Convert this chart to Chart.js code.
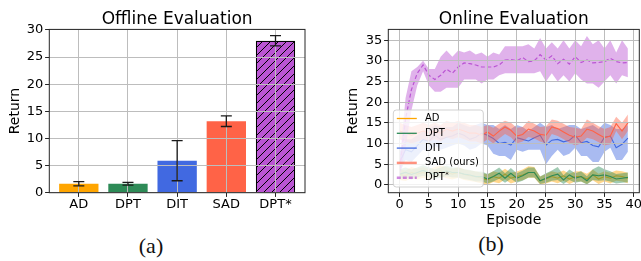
<!DOCTYPE html>
<html>
<head>
<meta charset="utf-8">
<script src="https://cdn.jsdelivr.net/npm/chart.js@4.4.0/dist/chart.umd.min.js"></script>
<style>
  html, body { margin: 0; padding: 0; background: #fff; }
  #wrap { position: relative; width: 641px; height: 261px; overflow: hidden; }
  #offline { position: absolute; left: 0; top: 0; }
  #online { position: absolute; left: 320px; top: 0; }
  .cap { position: absolute; font-family: "Liberation Serif", serif; font-size: 22px; color: #111; transform: translate(-50%, -50%); }
</style>
</head>
<body>
<div id="wrap">
  <canvas id="offline" width="320" height="230" style="width:320px;height:230px"></canvas>
  <canvas id="online" width="321" height="230" style="width:321px;height:230px"></canvas>
  <div class="cap" style="left:151px; top:246px">(a)</div>
  <div class="cap" style="left:491px; top:244px">(b)</div>
</div>
<script>
// ---- offline evaluation (bars + error bars)
var methods = ['AD', 'DPT', 'DIT', 'SAD', 'DPT*'];
var offlineMean = [1.65, 1.65, 5.9, 13.15, 28.0];
var offlineLow = [1.25, 1.4, 2.2, 12.2, 27.05];
var offlineHigh = [2.05, 1.9, 9.6, 14.15, 28.95];

// ---- online evaluation (mean and band per episode)
var episodes = [0, 1, 2, 3, 4, 5, 6, 7, 8, 9, 10, 11, 12, 13, 14, 15, 16, 17, 18, 19,
  20, 21, 22, 23, 24, 25, 26, 27, 28, 29, 30, 31, 32, 33, 34, 35, 36, 37, 38, 39];

var adMean = [2.5, 2.2, 3.0, 2.6, 3.0, 2.5, 3.0, 3.4, 3.0, 2.6, 3.0, 2.5, 2.2, 2.0, 1.6, 1.2, 2.0, 1.6, 2.6, 1.6,
  2.0, 2.4, 3.0, 3.0, 1.0, 1.4, 2.0, 1.6, 2.2, 1.4, 2.0, 2.0, 1.4, 2.4, 1.4, 2.0, 1.6, 2.2, 2.0, 1.6];
var adLow = [1.2, 0.9, 1.6, 1.3, 1.7, 1.2, 1.7, 2.0, 1.6, 1.3, 1.7, 1.2, 0.9, 0.7, 0.3, 0.0, 0.7, 0.4, 1.3, 0.3,
  0.8, 1.1, 1.7, 1.7, 0.1, 0.3, 0.8, 0.4, 1.0, 0.2, 0.8, 0.8, 0.2, 1.1, 0.2, 0.8, 0.3, 1.0, 0.8, 0.4];
var adHigh = [3.8, 3.5, 4.3, 3.9, 4.3, 3.8, 4.3, 4.7, 4.3, 3.9, 4.3, 3.8, 3.5, 3.3, 2.9, 2.5, 3.3, 2.9, 3.9, 2.9,
  3.2, 3.7, 4.5, 4.3, 2.0, 2.6, 3.3, 2.9, 3.5, 2.7, 3.3, 3.3, 2.7, 3.7, 2.7, 3.3, 2.9, 3.5, 3.3, 2.9];

var dptMean = [2.6, 3.0, 2.5, 3.0, 3.5, 3.0, 2.6, 3.0, 3.4, 3.0, 3.0, 2.6, 2.4, 2.0, 2.0, 1.4, 2.0, 2.8, 1.6, 2.8,
  1.6, 2.2, 3.0, 3.0, 1.0, 1.6, 2.2, 2.6, 1.2, 2.4, 1.6, 2.0, 1.0, 2.4, 2.2, 2.4, 2.0, 1.4, 1.6, 1.8];
var dptLow = [1.4, 1.8, 1.3, 1.8, 2.2, 1.8, 1.4, 1.8, 2.1, 1.8, 1.8, 1.4, 1.2, 0.8, 0.8, 0.3, 0.8, 1.5, 0.5, 1.5,
  0.5, 1.0, 1.8, 1.8, 0.2, 0.5, 1.0, 1.2, 0.2, 1.2, 0.5, 0.8, 0.1, 1.2, 1.0, 1.1, 0.8, 0.3, 0.5, 0.6];
var dptHigh = [3.8, 4.2, 3.7, 4.2, 4.8, 4.2, 3.8, 4.2, 4.7, 4.2, 4.2, 3.8, 3.6, 3.2, 3.2, 2.6, 3.3, 4.2, 2.8, 4.1,
  2.8, 3.4, 4.2, 4.2, 2.0, 2.8, 3.5, 4.3, 2.3, 3.7, 2.8, 3.3, 2.1, 3.8, 4.5, 3.8, 3.3, 2.6, 2.8, 3.0];

var ditMean = [5.5, 8.5, 8.0, 9.5, 11.0, 10.5, 12.0, 11.0, 11.5, 11.8, 12.5, 12.0, 11.0, 11.5, 12.5, 12.0, 11.2, 10.0, 10.3, 9.6,
  11.4, 11.0, 10.6, 11.4, 12.0, 9.6, 10.8, 11.0, 10.4, 10.8, 12.0, 10.2, 10.5, 9.5, 9.2, 11.5, 11.8, 9.0, 9.8, 11.3];
var ditLow = [3.0, 6.0, 5.5, 7.0, 8.5, 8.0, 9.5, 8.5, 9.0, 9.5, 10.0, 9.5, 8.5, 9.0, 10.0, 9.5, 7.5, 7.0, 7.0, 6.0,
  8.5, 8.0, 8.5, 8.5, 8.5, 5.0, 7.0, 8.5, 7.0, 7.5, 9.0, 7.0, 7.0, 5.5, 5.5, 8.0, 9.0, 6.0, 6.0, 8.0];
var ditHigh = [8.0, 11.0, 11.0, 12.0, 13.0, 13.5, 14.5, 14.0, 14.0, 14.0, 15.0, 14.5, 14.0, 14.5, 15.0, 14.5, 14.5, 13.5, 14.5, 13.5,
  14.5, 14.0, 13.0, 14.0, 15.0, 14.0, 14.5, 13.5, 14.0, 14.5, 14.5, 13.5, 14.0, 14.5, 13.5, 15.0, 14.5, 13.5, 13.5, 14.5];

var sadMean = [13.0, 12.5, 12.0, 12.5, 13.0, 12.5, 13.0, 12.5, 13.5, 13.0, 13.5, 13.0, 12.5, 12.5, 12.0, 12.8, 11.8, 13.0, 14.0, 13.2,
  11.8, 12.2, 13.5, 13.0, 12.2, 12.0, 14.0, 13.6, 12.8, 12.0, 11.5, 11.8, 13.5, 13.0, 12.2, 11.4, 11.8, 14.8, 13.0, 15.0];
var sadLow = [11.0, 10.5, 10.0, 10.5, 11.0, 10.5, 11.0, 10.5, 11.5, 11.0, 11.5, 11.0, 10.5, 10.5, 10.0, 11.0, 10.0, 11.2, 12.3, 11.5,
  10.0, 10.5, 11.6, 11.2, 10.5, 10.0, 12.3, 11.8, 11.0, 10.2, 9.5, 10.0, 11.4, 11.0, 10.3, 9.5, 9.8, 13.0, 11.0, 13.0];
var sadHigh = [15.0, 14.5, 14.0, 14.5, 15.0, 14.5, 15.0, 14.5, 15.5, 15.0, 15.5, 15.0, 14.5, 14.5, 14.0, 14.5, 13.8, 14.8, 15.5, 15.0,
  13.8, 14.0, 15.5, 14.8, 14.0, 14.2, 15.8, 15.5, 14.8, 14.0, 13.8, 13.5, 15.8, 15.0, 14.2, 13.5, 14.0, 16.5, 15.0, 17.0];

var starMean = [4.0, 16.0, 23.0, 27.0, 29.0, 26.5, 25.5, 26.5, 28.0, 27.0, 28.5, 29.5, 29.3, 29.0, 28.5, 28.5, 28.5, 29.0, 30.2, 30.3,
  30.0, 30.8, 29.8, 30.0, 31.5, 30.2, 31.2, 29.3, 30.4, 29.2, 31.0, 29.6, 30.2, 29.5, 29.6, 29.8, 30.6, 29.8, 29.5, 29.6];
var starLow = [2.0, 9.0, 18.0, 24.0, 27.5, 24.0, 22.5, 22.5, 23.5, 23.5, 23.5, 25.5, 25.5, 25.5, 24.5, 25.5, 25.5, 26.5, 27.0, 27.0,
  27.0, 27.0, 27.0, 27.0, 27.5, 25.0, 27.0, 25.0, 26.5, 25.0, 27.0, 25.5, 24.5, 24.5, 23.5, 25.0, 26.5, 24.5, 26.5, 26.0];
var starHigh = [6.0, 21.0, 27.5, 28.5, 30.0, 28.0, 28.0, 31.0, 32.5, 31.0, 32.5, 32.0, 32.5, 31.5, 32.0, 31.0, 32.0, 31.5, 33.5, 33.5,
  33.5, 33.5, 34.0, 33.0, 35.5, 33.0, 34.5, 33.0, 35.0, 33.0, 35.0, 33.5, 36.0, 34.0, 35.0, 33.0, 35.0, 32.0, 35.0, 33.0];

var seriesNames = ['AD', 'DPT', 'DIT', 'SAD (ours)', 'DPT*'];
var colours = ['#ffa500', '#2e8b57', '#4169e1', '#ff6347', '#ba55d3'];
var bands = ['rgba(255,165,0,0.45)', 'rgba(46,139,87,0.45)', 'rgba(65,105,225,0.45)', 'rgba(255,99,71,0.45)', 'rgba(186,85,211,0.45)'];

Chart.defaults.font.family = 'DejaVu Sans';
Chart.defaults.color = '#000';
Chart.defaults.animation = false;

var gridCol = '#bdbdbd';

// hatched fill for DPT*
function hatch(colour) {
  var c = document.createElement('canvas');
  c.width = 8; c.height = 8;
  var g = c.getContext('2d');
  g.fillStyle = colour;
  g.fillRect(0, 0, 8, 8);
  g.strokeStyle = '#000';
  g.lineWidth = 1;
  g.beginPath();
  g.moveTo(0, 8); g.lineTo(8, 0);
  g.moveTo(-4, 4); g.lineTo(4, -4);
  g.moveTo(4, 12); g.lineTo(12, 4);
  g.stroke();
  return g.createPattern(c, 'repeat');
}

// matplotlib draws the grid over the marks here, plus a full frame
var gridOnTop = {
  id: 'gridOnTop',
  afterDatasetsDraw: function(chart) {
    var a = chart.chartArea;
    chart.scales.x.drawGrid(a);
    chart.scales.y.drawGrid(a);
    var ctx = chart.ctx;
    ctx.save();
    ctx.strokeStyle = '#262626';
    ctx.lineWidth = 1;
    ctx.strokeRect(a.left, a.top, a.right - a.left, a.bottom - a.top);
    ctx.restore();
  }
};

var errorBars = {
  id: 'errorBars',
  afterDraw: function(chart) {
    var xs = chart.scales.x, ys = chart.scales.y, ctx = chart.ctx;
    ctx.save();
    ctx.strokeStyle = '#1a1a1a';
    ctx.lineWidth = 1.3;
    for (var i = 0; i < methods.length; i++) {
      var px = xs.getPixelForValue(i);
      var lo = ys.getPixelForValue(offlineLow[i]);
      var hi = ys.getPixelForValue(offlineHigh[i]);
      ctx.beginPath();
      ctx.moveTo(px, lo); ctx.lineTo(px, hi);
      ctx.moveTo(px - 5.5, lo); ctx.lineTo(px + 5.5, lo);
      ctx.moveTo(px - 5.5, hi); ctx.lineTo(px + 5.5, hi);
      ctx.stroke();
    }
    ctx.restore();
  }
};

var insideLegend = {
  id: 'insideLegend',
  afterDraw: function(chart) {
    var a = chart.chartArea, ctx = chart.ctx;
    var x0 = a.left + 5, y0 = a.bottom - 82.7, w = 90, h = 77;
    ctx.save();
    ctx.fillStyle = 'rgba(255,255,255,0.8)';
    ctx.strokeStyle = 'rgba(204,204,204,0.9)';
    ctx.lineWidth = 1;
    ctx.beginPath();
    ctx.roundRect(x0, y0, w, h, 3);
    ctx.fill();
    ctx.stroke();
    ctx.textBaseline = 'middle';
    for (var i = 0; i < seriesNames.length; i++) {
      var yy = y0 + 8.5 + i * 14.8;
      ctx.strokeStyle = colours[i];
      ctx.globalAlpha = i >= 3 ? 0.7 : 1;
      ctx.lineWidth = i >= 3 ? 2.5 : 1.3;
      ctx.setLineDash(i == 4 ? [4, 2] : []);
      ctx.beginPath();
      ctx.moveTo(x0 + 3.5, yy);
      ctx.lineTo(x0 + 23.5, yy);
      ctx.stroke();
      ctx.globalAlpha = 1;
      ctx.fillStyle = '#000';
      var name = seriesNames[i];
      if (name.slice(-1) == '*') {
        var base = name.slice(0, -1);
        ctx.font = '10px "DejaVu Sans"';
        ctx.fillText(base, x0 + 31.7, yy);
        var bw = ctx.measureText(base).width;
        ctx.font = '7px "DejaVu Sans"';
        ctx.fillText('*', x0 + 31.7 + bw + 0.5, yy - 3);
      } else {
        ctx.font = '10px "DejaVu Sans"';
        ctx.fillText(name, x0 + 31.7, yy);
      }
    }
    ctx.restore();
  }
};

// ---------------- left chart
var barData = [];
for (var i = 0; i < methods.length; i++) barData.push({x: i, y: offlineMean[i]});
var barFill = colours.slice(0, 4).concat([hatch('#ba55d3')]);

new Chart(document.getElementById('offline').getContext('2d'), {
  type: 'bar',
  data: {
    datasets: [{
      data: barData,
      backgroundColor: barFill,
      borderColor: ['rgba(0,0,0,0)', 'rgba(0,0,0,0)', 'rgba(0,0,0,0)', 'rgba(0,0,0,0)', '#000'],
      borderWidth: [0, 0, 0, 0, 1.2],
      barPercentage: 0.8,
      categoryPercentage: 1.0
    }]
  },
  options: {
    responsive: false,
    devicePixelRatio: 1,
    layout: { padding: { left: 0, right: 15, top: 0, bottom: 0 } },
    plugins: {
      legend: { display: false },
      tooltip: { enabled: false },
      title: {
        display: true, text: 'Offline Evaluation', fullSize: false,
        font: { size: 17, weight: 'normal' }, color: '#000',
        padding: { top: 9, bottom: 0 }
      }
    },
    scales: {
      x: {
        type: 'linear', min: -0.6, max: 4.6, offset: false,
        grid: { offset: false, color: gridCol, tickColor: '#262626', tickLength: 4, lineWidth: 1 },
        border: { display: false },
        ticks: {
          stepSize: 1, includeBounds: false, padding: 0, font: { size: 13 }, color: '#000',
          callback: function(v) { return methods[v]; }
        },
        afterFit: function(s) { s.height = 37.3; s.paddingLeft = 0; s.paddingRight = 0; }
      },
      y: {
        min: 0, max: 30.1,
        grid: { color: gridCol, tickColor: '#262626', tickLength: 4, lineWidth: 1 },
        border: { display: false },
        ticks: { stepSize: 5, includeBounds: false, padding: 2, font: { size: 13 }, color: '#000' },
        title: { display: true, text: 'Return', font: { size: 14 }, color: '#000', padding: { top: 6.6, bottom: 0 } },
        afterFit: function(s) { s.width = 49.3; s.paddingTop = 0; s.paddingBottom = 0; }
      }
    }
  },
  plugins: [gridOnTop, errorBars]
});

// ---------------- right chart
var means = [adMean, dptMean, ditMean, sadMean, starMean];
var lows = [adLow, dptLow, ditLow, sadLow, starLow];
var highs = [adHigh, dptHigh, ditHigh, sadHigh, starHigh];
var sets = [];
for (var k = 0; k < means.length; k++) {
  sets.push({ data: lows[k], borderWidth: 0, borderColor: 'rgba(0,0,0,0)', pointRadius: 0, fill: false, order: 100 - 3 * k });
  sets.push({ data: highs[k], borderWidth: 0, borderColor: 'rgba(0,0,0,0)', pointRadius: 0, fill: '-1', backgroundColor: bands[k], order: 99 - 3 * k });
  sets.push({
    data: means[k], borderColor: colours[k], borderWidth: k == 4 ? 1.2 : 1.1, pointRadius: 0, fill: false,
    borderDash: k == 4 ? [4, 2.5] : [], order: 98 - 3 * k
  });
}

new Chart(document.getElementById('online').getContext('2d'), {
  type: 'line',
  data: { labels: episodes, datasets: sets },
  options: {
    responsive: false,
    devicePixelRatio: 1,
    layout: { padding: { left: 18, right: 1.7, top: 0, bottom: 0 } },
    elements: { line: { tension: 0 } },
    plugins: {
      legend: { display: false },
      tooltip: { enabled: false },
      title: {
        display: true, text: 'Online Evaluation', fullSize: false,
        font: { size: 17, weight: 'normal' }, color: '#000',
        padding: { top: 9, bottom: 0 }
      }
    },
    scales: {
      x: {
        type: 'linear', min: -1.95, max: 40.95, offset: false,
        grid: { offset: false, color: gridCol, tickColor: '#262626', tickLength: 4, lineWidth: 1 },
        border: { display: false },
        ticks: { stepSize: 5, includeBounds: false, padding: 0, font: { size: 13 }, color: '#000', maxRotation: 0 },
        title: { display: true, text: 'Episode', font: { size: 14 }, color: '#000', padding: { top: 0, bottom: 1.6 } },
        afterFit: function(s) { s.height = 37.3; s.paddingLeft = 0; s.paddingRight = 0; }
      },
      y: {
        min: -1.9, max: 37.6,
        grid: { color: gridCol, tickColor: '#262626', tickLength: 4, lineWidth: 1 },
        border: { display: false },
        ticks: { stepSize: 5, includeBounds: false, padding: 2, font: { size: 13 }, color: '#000' },
        title: { display: true, text: 'Return', font: { size: 14 }, color: '#000', padding: { top: 6.6, bottom: 0 } },
        afterFit: function(s) { s.width = 50.3; s.paddingTop = 0; s.paddingBottom = 0; }
      }
    }
  },
  plugins: [gridOnTop, insideLegend]
});
</script>
</body>
</html>
